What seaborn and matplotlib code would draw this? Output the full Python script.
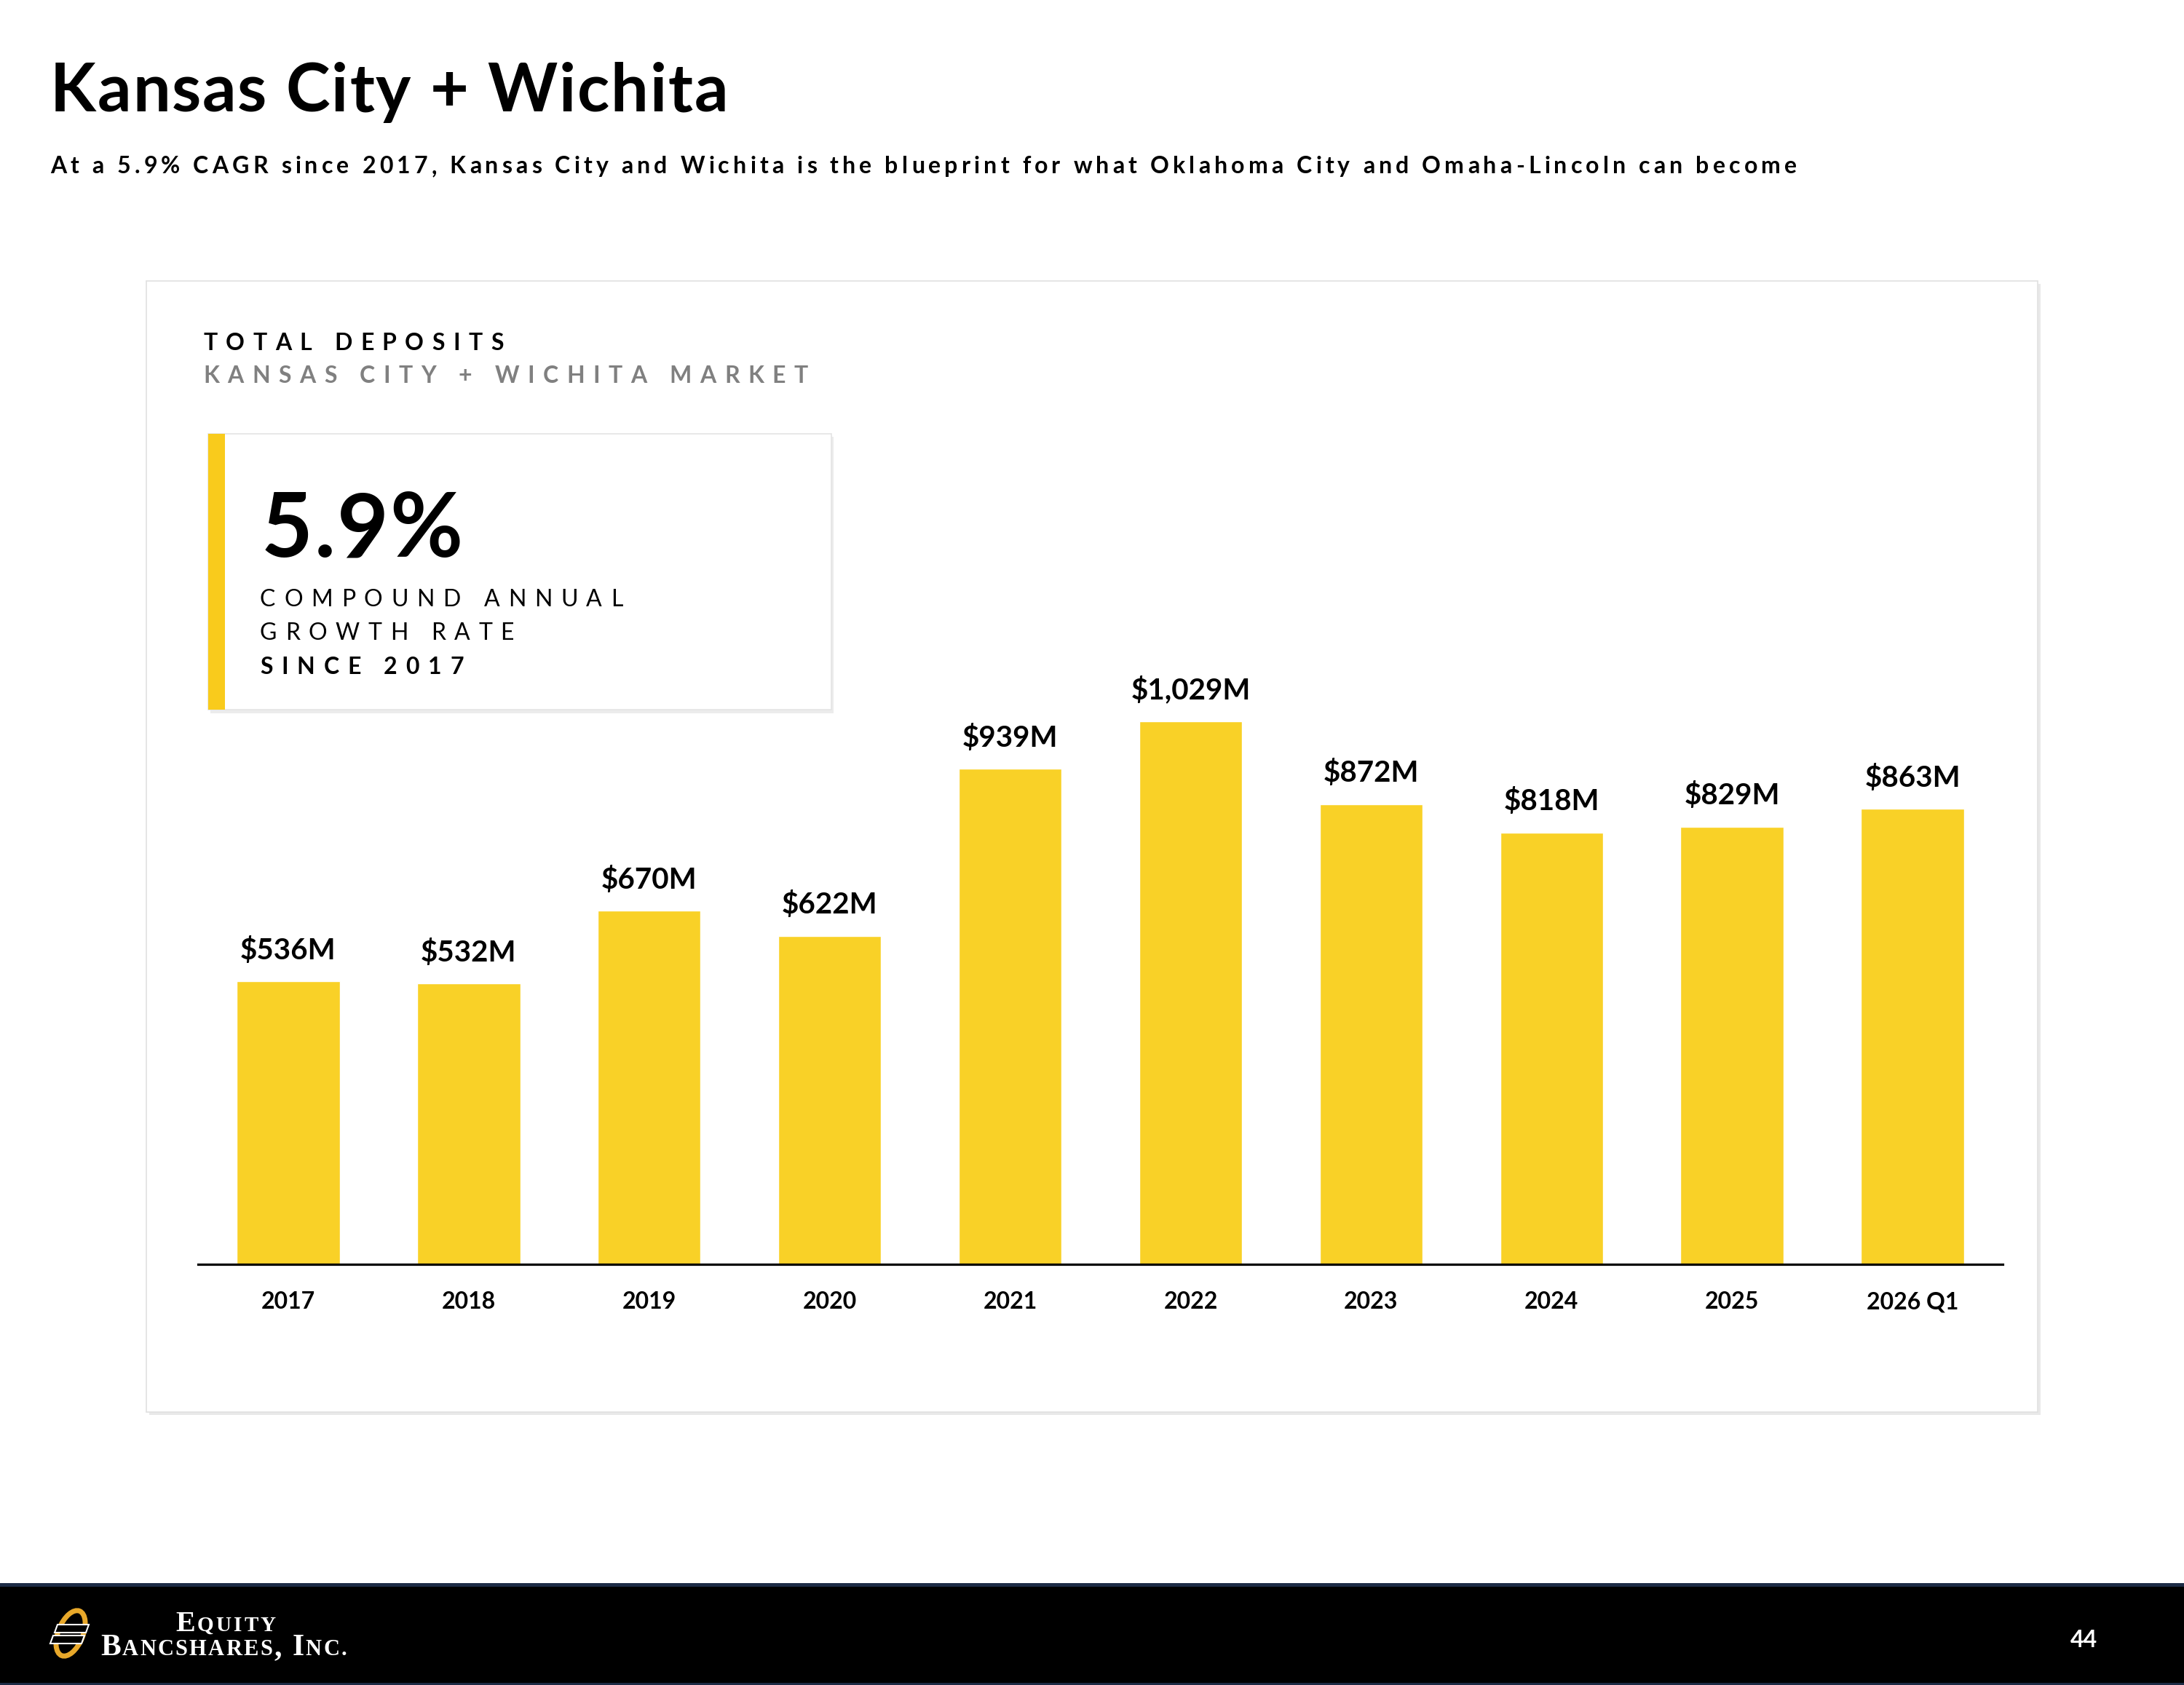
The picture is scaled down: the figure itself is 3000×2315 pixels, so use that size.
import numpy as np
import pandas as pd
import seaborn as sns
import matplotlib.pyplot as plt
from matplotlib.patches import Rectangle, Ellipse, Polygon

# ---- data
years = ['2017', '2018', '2019', '2020', '2021', '2022', '2023', '2024', '2025', '2026 Q1']
deposits = [536, 532, 670, 622, 939, 1029, 872, 818, 829, 863]
value_labels = ['$536M', '$532M', '$670M', '$622M', '$939M',
                '$1,029M', '$872M', '$818M', '$829M', '$863M']

title = 'Kansas City + Wichita'
subtitle = ('At a 5.9% CAGR since 2017, Kansas City and Wichita is the blueprint '
            'for what Oklahoma City and Omaha-Lincoln can become')
card_title = 'TOTAL DEPOSITS'
card_sub = 'KANSAS CITY + WICHITA MARKET'
kpi_value = '5.9%'
kpi_lines = ['COMPOUND ANNUAL', 'GROWTH RATE', 'SINCE 2017']
page_no = '44'

YELLOW = '#F9D127'

sns.set_theme(style='white')
plt.rcParams['font.family'] = ['Lato', 'DejaVu Sans']

W, H = 3000, 2315
fig = plt.figure(figsize=(W / 100, H / 100), dpi=100)
fig.patch.set_facecolor('white')

# background axes in pixel units (y down)
bg = fig.add_axes([0, 0, 1, 1], zorder=0)
bg.set_xlim(0, W)
bg.set_ylim(H, 0)
bg.axis('off')
rend = fig.canvas.get_renderer()


def ink_w(s, size, weight, family):
    t = bg.text(0, 0, s, fontsize=size, fontweight=weight, family=family)
    w = t.get_window_extent(renderer=rend).width
    t.remove()
    return w


def spaced(x, y, runs, width=None, track=0.0, color='black', family='Lato', ha='left'):
    # draw letter-spaced text, runs = [(text, size, weight), ...]
    chars = []
    for s, size, weight in runs:
        bars = ink_w('||', size, weight, family)
        for c in s:
            adv = ink_w('|' + c + '|', size, weight, family) - bars
            iw = 0 if c == ' ' else ink_w(c, size, weight, family)
            chars.append((c, size, weight, adv, iw))
    natural = sum(c[3] for c in chars)
    if width is not None:
        track = (width - natural) / (len(chars) - 1)
    total = natural + track * (len(chars) - 1)
    if ha == 'center':
        x -= total / 2
    for c, size, weight, adv, iw in chars:
        if c != ' ':
            bg.text(x + (adv - iw) / 2, y, c, fontsize=size, fontweight=weight,
                    family=family, color=color, va='baseline', ha='left')
        x += adv + track


# ---- heading
spaced(69, 153, [(title, 66, 'bold')], width=931)
spaced(69, 238, [(subtitle, 23, 'bold')], width=2399)

# ---- card
bg.add_patch(Rectangle((205, 390), 2598, 1554, facecolor='#E9E9E9', edgecolor='none'))
bg.add_patch(Rectangle((201, 386), 2598, 1554, facecolor='white', edgecolor='#E0E0E0', lw=1.2))

spaced(279, 481, [(card_title, 23, 'bold')], width=413)
spaced(279, 526, [(card_sub, 23, 'bold')], width=831, color='#808080')

# KPI box
bg.add_patch(Rectangle((289, 600), 856, 380, facecolor='#ECECEC', edgecolor='none'))
bg.add_patch(Rectangle((286, 596), 856, 379, facecolor='white', edgecolor='#E4E4E4', lw=1.2))
bg.add_patch(Rectangle((286, 596), 23, 379, facecolor='#F9CB1C', edgecolor='none'))

spaced(359, 765, [(kpi_value, 88, 'bold')], width=277)
spaced(357, 833, [(kpi_lines[0], 23, 'normal')], width=498)
spaced(357, 879, [(kpi_lines[1], 23, 'normal')], width=349)
spaced(357, 926, [(kpi_lines[2], 23, 'bold')], width=280)

# ---- bar chart
ax = fig.add_axes([272 / W, 1 - 1737 / H, (2751 - 272) / W, (1737 - 900) / H], zorder=2)
ax.patch.set_alpha(0)
df = pd.DataFrame({'year': years, 'deposits': deposits})
sns.barplot(data=df, x='year', y='deposits', color=YELLOW, saturation=1,
            width=0.57, ax=ax)
ax.set_xlim(-0.5, len(years) - 0.5)
ax.set_ylim(0, (1737 - 900) / 0.725)
ax.set_xlabel('')
ax.set_ylabel('')
ax.set_yticks([])
for s in ['left', 'right', 'top']:
    ax.spines[s].set_visible(False)
ax.spines['bottom'].set_linewidth(2.3)
ax.spines['bottom'].set_color('black')
ax.tick_params(axis='x', length=0, pad=27, labelsize=23, labelcolor='black')
for lab in ax.get_xticklabels():
    lab.set_fontweight('bold')

for i, (v, lab) in enumerate(zip(deposits, value_labels)):
    ax.annotate(lab, (i, v), xytext=(0, 22), textcoords='offset points',
                ha='center', va='baseline', fontsize=29, fontweight='bold', color='black')

# ---- footer
bg.add_patch(Rectangle((0, 2175), W, 140, facecolor='black', edgecolor='none'))
bg.add_patch(Rectangle((0, 2175), W, 5, facecolor='#1C2B45', edgecolor='none'))
bg.add_patch(Rectangle((0, 2312), W, 3, facecolor='#1C2B45', edgecolor='none'))

# logo mark
bg.add_patch(Ellipse((97, 2244), 34, 66, angle=22, facecolor='none',
                     edgecolor='#E8A82A', lw=5))
bg.add_patch(Polygon([[79, 2232], [122, 2232], [118, 2243], [75, 2243]],
                     closed=True, facecolor='black', edgecolor='white', lw=1.5))
bg.add_patch(Polygon([[73, 2247], [116, 2247], [112, 2258], [69, 2258]],
                     closed=True, facecolor='black', edgecolor='white', lw=1.5))

serif = 'Liberation Serif'
spaced(241, 2241, [('E', 29, 'bold'), ('QUITY', 21, 'bold')], width=138,
       color='white', family=serif)
spaced(138, 2274, [('B', 30, 'bold'), ('ANCSHARES', 22, 'bold'), (', ', 30, 'bold'),
                   ('I', 30, 'bold'), ('NC.', 22, 'bold')], width=338,
       color='white', family=serif)

bg.text(2863, 2263, page_no, fontsize=23, fontweight='bold', color='white',
        ha='center', va='baseline')

fig.savefig('out.png', dpi=100, facecolor='white')
